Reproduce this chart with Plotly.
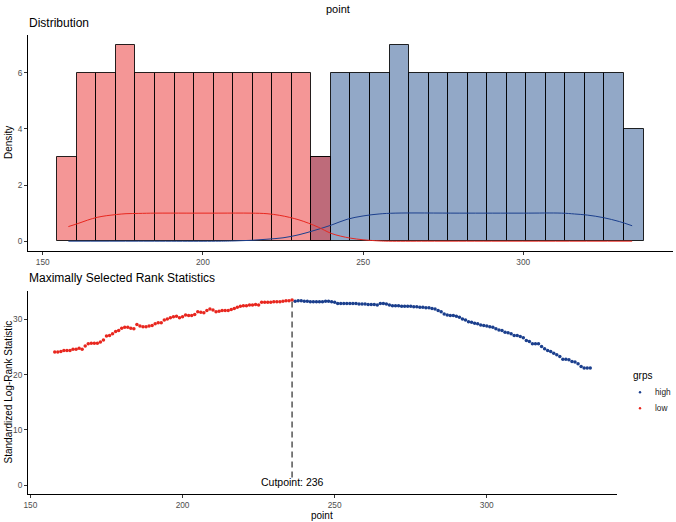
import plotly.graph_objects as go

# ---------------- data ----------------
bin_centers = [157.6, 163.7, 169.8, 175.9, 182.0, 188.1, 194.2, 200.3, 206.4, 212.5,
               218.6, 224.7, 230.8, 236.9, 243.0, 249.1, 255.2, 261.3, 267.4, 273.5,
               279.6, 285.7, 291.8, 297.9, 304.0, 310.1, 316.2, 322.3, 328.4, 334.5]
bin_width = 6.1
low_counts = [3, 6, 6, 7, 6, 6, 6, 6, 6, 6, 6, 6, 6, 3,
              0, 0, 0, 0, 0, 0, 0, 0, 0, 0, 0, 0, 0, 0, 0, 0]
high_counts = [0, 0, 0, 0, 0, 0, 0, 0, 0, 0, 0, 0, 0, 3,
               6, 6, 6, 7, 6, 6, 6, 6, 6, 6, 6, 6, 6, 6, 6, 4]

low_dens_x = [158, 161, 164, 167, 170, 173, 176, 180, 185, 195, 205, 215, 220, 224,
              227, 230, 233, 236, 240, 243, 246, 250, 255, 258, 270, 290, 310, 334]
low_dens_y = [0.52, 0.63, 0.75, 0.85, 0.91, 0.95, 0.98, 0.99, 1.0, 1.0, 1.0, 1.0, 0.98, 0.92,
              0.85, 0.76, 0.64, 0.5, 0.28, 0.18, 0.11, 0.05, 0.01, 0.0, 0.0, 0.0, 0.0, 0.0]
high_dens_x = [158, 180, 205, 210, 215, 220, 225, 230, 235, 240, 245, 250, 255, 260,
               280, 300, 312, 316, 320, 325, 330, 334]
high_dens_y = [0.0, 0.0, 0.0, 0.01, 0.03, 0.07, 0.12, 0.23, 0.39, 0.57, 0.78, 0.9, 0.97, 1.0,
               1.0, 1.0, 1.0, 0.97, 0.93, 0.84, 0.7, 0.55]

low_x = [158, 159, 160, 161, 162, 163, 164, 165, 166, 167, 168, 169, 170, 171, 172, 173,
         174, 175, 176, 177, 178, 179, 180, 181, 182, 183, 184, 185, 186, 187, 188, 189,
         190, 191, 192, 193, 194, 195, 196, 197, 198, 199, 200, 201, 202, 203, 204, 205,
         206, 207, 208, 209, 210, 211, 212, 213, 214, 215, 216, 217, 218, 219, 220, 221,
         222, 223, 224, 225, 226, 227, 228, 229, 230, 231, 232, 233, 234, 235, 236]
low_y = [24.1, 24.1, 24.2, 24.4, 24.4, 24.4, 24.6, 24.6, 24.8, 24.6, 25.2, 25.6, 25.7, 25.7,
         25.7, 25.9, 26.3, 27.0, 27.1, 27.4, 27.8, 28.0, 28.4, 28.6, 28.6, 28.4, 28.3, 29.1,
         28.8, 28.7, 28.7, 28.8, 28.9, 29.2, 29.4, 29.4, 29.9, 30.1, 30.3, 30.5, 30.6, 30.3,
         30.5, 30.8, 30.7, 30.7, 30.9, 31.4, 31.3, 31.2, 31.6, 31.9, 31.7, 31.4, 31.5, 31.6,
         31.6, 31.6, 31.8, 32.0, 32.2, 32.4, 32.5, 32.5, 32.6, 32.6, 32.7, 32.6, 33.1, 33.1,
         33.1, 33.1, 33.2, 33.2, 33.2, 33.3, 33.4, 33.4, 33.5]
high_x = [237, 238, 239, 240, 241, 242, 243, 244, 245, 246, 247, 248, 249, 250, 251, 252,
          253, 254, 255, 256, 257, 258, 259, 260, 261, 262, 263, 264, 265, 266, 267, 268,
          269, 270, 271, 272, 273, 274, 275, 276, 277, 278, 279, 280, 281, 282, 283, 284,
          285, 286, 287, 288, 289, 290, 291, 292, 293, 294, 295, 296, 297, 298, 299, 300,
          301, 302, 303, 304, 305, 306, 307, 308, 309, 310, 311, 312, 313, 314, 315, 316,
          317, 318, 319, 320, 321, 322, 323, 324, 325, 326, 327, 328, 329, 330, 331, 332,
          333, 334]
high_y = [33.3, 33.4, 33.4, 33.3, 33.3, 33.2, 33.2, 33.2, 33.2, 33.2, 33.3, 33.3, 33.2, 33.1,
          32.9, 32.9, 32.9, 32.9, 32.9, 32.9, 32.9, 32.8, 32.8, 32.8, 32.7, 32.7, 32.7, 32.6,
          32.9, 32.9, 32.8, 32.6, 32.5, 32.5, 32.5, 32.4, 32.4, 32.4, 32.4, 32.3, 32.3, 32.2,
          32.2, 32.1, 32.1, 32.0, 31.9, 31.6, 31.4, 31.0, 30.8, 30.7, 30.7, 30.6, 30.4, 30.1,
          29.9, 29.6, 29.5, 29.3, 29.2, 29.0, 28.9, 28.8, 28.7, 28.6, 28.3, 28.1, 28.0, 27.7,
          27.6, 27.4, 27.1, 27.1, 26.9, 26.7, 26.2, 26.0, 25.6, 25.6, 25.6, 25.1, 24.7, 24.4,
          24.2, 23.9, 23.6, 23.3, 22.8, 22.8, 22.7, 22.4, 22.3, 22.0, 21.5, 21.2, 21.2, 21.2]

groups = ["high", "low"]
legend_title = "grps"
cutpoint = 236
cut_stat = 33.5
cut_label = "Cutpoint: 236"

# ---------------- styles ----------------
RED = "#E8271F"
BLUE = "#1B3F8D"
RED_FILL = "rgba(233,45,45,0.5)"
BLUE_FILL = "rgba(37,81,143,0.5)"
FONT = "Liberation Sans, Arial, sans-serif"

W, H = 676, 522
SX0, SX1, SY0, SY1 = 28, 673, 35, 494          # plot area in pixels
L, R, T, B = SX0, W - SX1, SY0, H - SY1
PW, PH = W - L - R, H - T - B


def px(x):
    return (x - SX0) / PW


def py(y):
    return (SY1 - y) / PH


fig = go.Figure()

# histogram bars (high first, low drawn on top)
hx = [c for c, n in zip(bin_centers, high_counts) if n > 0]
hy = [n for n in high_counts if n > 0]
lx = [c for c, n in zip(bin_centers, low_counts) if n > 0]
ly = [n for n in low_counts if n > 0]
fig.add_trace(go.Bar(x=hx, y=hy, width=bin_width, marker=dict(color=BLUE_FILL,
              line=dict(color="rgba(0,0,0,0.85)", width=1)),
              xaxis="x", yaxis="y", hoverinfo="skip"))
fig.add_trace(go.Bar(x=lx, y=ly, width=bin_width, marker=dict(color=RED_FILL,
              line=dict(color="rgba(0,0,0,0.85)", width=1)),
              xaxis="x", yaxis="y", hoverinfo="skip"))

# density curves
fig.add_trace(go.Scatter(x=high_dens_x, y=high_dens_y, mode="lines",
              line=dict(color=BLUE, width=1, shape="spline"), xaxis="x", yaxis="y"))
fig.add_trace(go.Scatter(x=low_dens_x, y=low_dens_y, mode="lines",
              line=dict(color=RED, width=1, shape="spline"), xaxis="x", yaxis="y"))

# rank statistics
fig.add_trace(go.Scatter(x=high_x, y=high_y, mode="markers", name=groups[0],
              marker=dict(color=BLUE, size=3.5), xaxis="x2", yaxis="y2"))
fig.add_trace(go.Scatter(x=low_x, y=low_y, mode="markers", name=groups[1],
              marker=dict(color=RED, size=3.5), xaxis="x2", yaxis="y2"))

axis_common = dict(showline=True, linecolor="black", linewidth=1, ticks="outside",
                   ticklen=3, tickwidth=1, tickcolor="#333333", showgrid=False,
                   zeroline=False, automargin=False,
                   tickfont=dict(size=8.3, color="#4D4D4D", family=FONT))

# legend drawn by hand (keeps the fixed margins)
legend_shapes = []
legend_ann = [dict(text=legend_title, x=px(631), y=py(375), xref="paper", yref="paper",
                   showarrow=False, font=dict(size=10), xanchor="left", yanchor="middle")]
for i, (g, c) in enumerate(zip(groups, [BLUE, RED])):
    yc = 392.3 + 16 * i
    legend_shapes.append(dict(type="circle", xref="paper", yref="paper",
                              x0=px(638.8), x1=px(641.2), y0=py(yc + 1.2), y1=py(yc - 1.2),
                              fillcolor=c, line=dict(width=0)))
    legend_ann.append(dict(text=g, x=px(652.5), y=py(yc), xref="paper", yref="paper",
                           showarrow=False, font=dict(size=8.3, color="#1A1A1A"),
                           xanchor="left", yanchor="middle"))

fig.update_layout(
    width=W, height=H, margin=dict(l=L, r=R, t=T, b=B, autoexpand=False),
    plot_bgcolor="white", paper_bgcolor="white", barmode="overlay", bargap=0,
    showlegend=False, template="none",
    font=dict(family=FONT, color="black"),
    xaxis=dict(domain=[0, 1], anchor="y", range=[145.4, 346.75],
               tickvals=[150, 200, 250, 300], **axis_common),
    yaxis=dict(domain=[py(251), 1], anchor="x", range=[-0.35, 7.35],
               tickvals=[0, 2, 4, 6], **axis_common),
    xaxis2=dict(domain=[0, px(617)], anchor="y2", range=[149.2, 342.8],
                tickvals=[150, 200, 250, 300], **axis_common),
    yaxis2=dict(domain=[0, py(291)], anchor="x2", range=[-1.6, 35.15],
                tickvals=[0, 10, 20, 30], **axis_common),
    shapes=[dict(type="line", xref="x2", yref="y2", x0=cutpoint, x1=cutpoint,
                 y0=1.4, y1=cut_stat - 0.3,
                 line=dict(color="#555555", width=1.5, dash="6px,4px"))] + legend_shapes,
    annotations=[
        dict(text="point", x=px(338), y=py(9.5), xref="paper", yref="paper",
             showarrow=False, font=dict(size=11), xanchor="center", yanchor="middle"),
        dict(text="Distribution", x=px(27), y=py(23), xref="paper", yref="paper",
             showarrow=False, font=dict(size=12), xanchor="left", yanchor="middle"),
        dict(text="Density", x=px(8), y=py(143), xref="paper", yref="paper",
             showarrow=False, font=dict(size=10), textangle=-90,
             xanchor="center", yanchor="middle"),
        dict(text="Maximally Selected Rank Statistics", x=px(27), y=py(278),
             xref="paper", yref="paper", showarrow=False, font=dict(size=12),
             xanchor="left", yanchor="middle"),
        dict(text="Standardized Log-Rank Statistic", x=px(8), y=py(392.5),
             xref="paper", yref="paper", showarrow=False, font=dict(size=10),
             textangle=-90, xanchor="center", yanchor="middle"),
        dict(text="point", x=px(322), y=py(515), xref="paper", yref="paper",
             showarrow=False, font=dict(size=10), xanchor="center", yanchor="middle"),
        dict(text=cut_label, x=cutpoint, y=0.5, xref="x2", yref="y2",
             showarrow=False, font=dict(size=10.5), xanchor="center", yanchor="middle"),
    ] + legend_ann,
)

# remove the default page margin so the figure fills the window exactly
fig.write_html("out.html",
               config={"displayModeBar": False},
               post_script="document.body.style.margin='0';"
                           "document.body.style.overflow='hidden';")
